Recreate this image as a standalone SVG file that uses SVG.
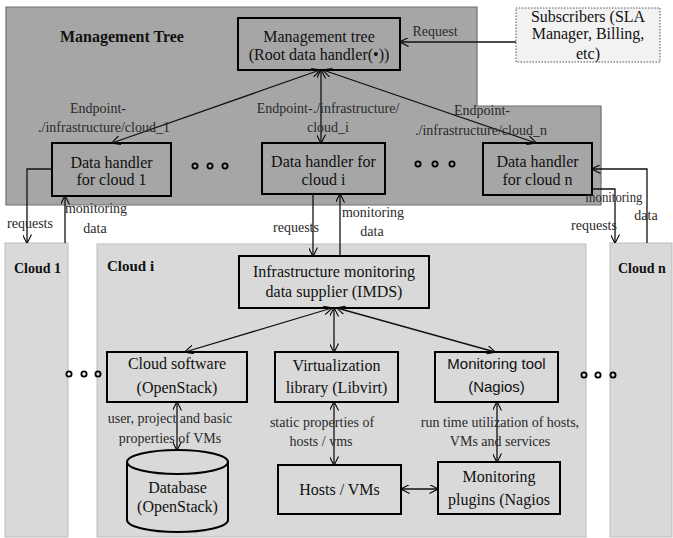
<svg xmlns="http://www.w3.org/2000/svg" width="673" height="538" viewBox="0 0 673 538">
<defs>
<marker id="arr" viewBox="0 0 10 10" refX="9.5" refY="5" markerWidth="9" markerHeight="9" markerUnits="userSpaceOnUse" orient="auto-start-reverse">
<path d="M0,0 L10,5 L0,10" fill="none" stroke="#000" stroke-width="1.2"/>
</marker>
<style>
.box{stroke:#000;stroke-width:2}
.dk{fill:#a6a6a6}
.lt{fill:#d9d9d9}
.t{font-family:"Liberation Serif","Times New Roman",serif;font-size:16px;fill:#111;text-anchor:middle}
.s{font-family:"Liberation Sans",Arial,sans-serif;font-size:15px;fill:#111;text-anchor:middle}
.lb{font-family:"Liberation Serif","Times New Roman",serif;font-size:14px;fill:#2a2a2a;text-anchor:middle}
.b{font-family:"Liberation Serif","Times New Roman",serif;font-weight:bold;fill:#111}
.c{fill:none;stroke:#111;stroke-width:1.3}
.ca{fill:none;stroke:#111;stroke-width:1.3;marker-end:url(#arr)}
.cb{fill:none;stroke:#111;stroke-width:1.3;marker-end:url(#arr);marker-start:url(#arr)}
.dot{stroke:#000;stroke-width:1.8}
</style>
</defs>

<g id="panels">
<path d="M6,7 H477 V106 H601 V205 H6 Z" fill="#a6a6a6" stroke="#6f6f6f" stroke-width="1.2"/>
<text class="b" x="60" y="42" font-size="16">Management Tree</text>
<rect x="5" y="243" width="63" height="294" fill="#d9d9d9" stroke="#bdbdbd" stroke-width="1"/>
<text class="b" x="14" y="273" font-size="14">Cloud 1</text>
<rect x="97" y="244" width="489" height="293" fill="#d9d9d9" stroke="#bdbdbd" stroke-width="1"/>
<text class="b" x="107" y="271" font-size="15">Cloud i</text>
<rect x="610" y="243" width="62" height="294" fill="#d9d9d9" stroke="#bdbdbd" stroke-width="1"/>
<text class="b" x="618" y="273" font-size="14">Cloud n</text>
</g>

<g id="subscribers">
<rect x="516" y="8" width="144" height="54" fill="#f2f2f2" stroke="#555" stroke-width="1" stroke-dasharray="1.5,1.5"/>
<text class="t" x="588" y="22">Subscribers (SLA</text>
<text class="t" x="588" y="39">Manager, Billing,</text>
<text class="t" x="588" y="59">etc)</text>
</g>

<g id="root">
<rect class="box dk" x="238" y="18" width="162" height="52"/>
<text class="t" x="319" y="42">Management tree</text>
<text class="t" x="319" y="60">(Root data handler(•))</text>
</g>

<g id="dh1">
<rect class="box dk" x="52" y="143" width="119" height="53"/>
<text class="t" x="111.5" y="168">Data handler</text>
<text class="t" x="111.5" y="185">for cloud 1</text>
</g>
<g id="dhi">
<rect class="box dk" x="262" y="143" width="123" height="51"/>
<text class="t" x="323.5" y="167">Data handler for</text>
<text class="t" x="323.5" y="185">cloud i</text>
</g>
<g id="dhn">
<rect class="box dk" x="483" y="143" width="109" height="52"/>
<text class="t" x="537.5" y="167">Data handler</text>
<text class="t" x="537.5" y="185">for cloud n</text>
</g>

<g id="imds">
<rect class="box lt" x="239" y="256" width="190" height="52"/>
<text class="t" x="334" y="277">Infrastructure  monitoring</text>
<text class="t" x="334" y="297">data supplier (IMDS)</text>
</g>
<g id="cloudsw">
<rect class="box lt" x="107" y="352" width="140" height="50"/>
<text class="t" x="177" y="369">Cloud software</text>
<text class="t" x="177" y="393">(OpenStack)</text>
</g>
<g id="virt">
<rect class="box lt" x="275" y="352" width="123" height="50"/>
<text class="t" x="336.5" y="371">Virtualization</text>
<text class="t" x="336.5" y="393">library (Libvirt)</text>
</g>
<g id="montool">
<rect class="box lt" x="435" y="352" width="123" height="50"/>
<text class="s" x="496.5" y="369">Monitoring tool</text>
<text class="s" x="496.5" y="392">(Nagios)</text>
</g>
<g id="database">
<path class="box lt" d="M127,462 A50.5,12 0 0,1 228,462 L228,520 A50.5,12 0 0,1 127,520 Z"/>
<path d="M127,462 A50.5,12 0 0,0 228,462" fill="none" stroke="#000" stroke-width="2"/>
<text class="t" x="177.5" y="493">Database</text>
<text class="t" x="177.5" y="512">(OpenStack)</text>
</g>
<g id="hosts">
<rect class="box lt" x="278" y="465" width="123" height="49"/>
<text class="t" x="339.5" y="495">Hosts  / VMs</text>
</g>
<g id="plugins">
<rect class="box lt" x="438" y="462" width="122" height="52"/>
<text class="t" x="499" y="482">Monitoring</text>
<text class="t" x="499" y="505">plugins (Nagios</text>
</g>

<g id="ellipses">
<circle class="dot" cx="195" cy="166" r="2.6" fill="#a6a6a6"/>
<circle class="dot" cx="210" cy="166" r="2.6" fill="#a6a6a6"/>
<circle class="dot" cx="225" cy="166" r="2.6" fill="#a6a6a6"/>
<circle class="dot" cx="418" cy="164" r="2.6" fill="#a6a6a6"/>
<circle class="dot" cx="435" cy="164" r="2.6" fill="#a6a6a6"/>
<circle class="dot" cx="452" cy="164" r="2.6" fill="#a6a6a6"/>
<circle class="dot" cx="69" cy="374" r="2.6" fill="#fff"/>
<circle class="dot" cx="84" cy="374" r="2.6" fill="#fff"/>
<circle class="dot" cx="98" cy="374" r="2.6" fill="#d9d9d9"/>
<circle class="dot" cx="584" cy="375" r="2.6" fill="#d9d9d9"/>
<circle class="dot" cx="598" cy="375" r="2.6" fill="#fff"/>
<circle class="dot" cx="613" cy="375" r="2.6" fill="#d9d9d9"/>
</g>

<g id="connectors">
<line class="ca" x1="516" y1="42" x2="400" y2="42"/>
<line class="cb" x1="320" y1="70" x2="112" y2="143"/>
<line class="cb" x1="321" y1="70" x2="321" y2="143"/>
<line class="cb" x1="323" y1="70" x2="536" y2="143"/>
<path class="ca" d="M52,169 H27 V243"/>
<line class="ca" x1="65" y1="243" x2="65" y2="196"/>
<line class="ca" x1="313" y1="194" x2="313" y2="256"/>
<line class="ca" x1="340" y1="256" x2="340" y2="194"/>
<path class="ca" d="M592,189 H615 V243"/>
<path class="ca" d="M647,243 V169 H592"/>
<line class="cb" x1="332" y1="308" x2="185" y2="352"/>
<line class="cb" x1="334" y1="308" x2="334" y2="352"/>
<line class="cb" x1="337" y1="308" x2="495" y2="352"/>
<line class="cb" x1="177" y1="402" x2="177" y2="450"/>
<line class="cb" x1="334" y1="402" x2="334" y2="465"/>
<line class="cb" x1="497" y1="402" x2="497" y2="462"/>
<line class="cb" x1="401" y1="489" x2="438" y2="489"/>
</g>

<g id="labels">
<text class="lb" x="435" y="36">Request</text>
<text class="lb" x="98" y="113">Endpoint-</text>
<text class="lb" x="104" y="132">./infrastructure/cloud_1</text>
<text class="lb" x="328" y="113">Endpoint-./infrastructure/</text>
<text class="lb" x="328" y="132">cloud_i</text>
<text class="lb" x="482" y="115">Endpoint-</text>
<text class="lb" x="481" y="135">./infrastructure/cloud_n</text>
<text class="lb" x="30" y="228">requests</text>
<text class="lb" x="96" y="213">monitoring</text>
<text class="lb" x="95" y="233">data</text>
<text class="lb" x="296" y="232">requests</text>
<text class="lb" x="373" y="217">monitoring</text>
<text class="lb" x="372" y="236">data</text>
<text class="lb" x="594" y="230">requests</text>
<text class="lb" x="614" y="202" text-anchor="start" textLength="57" lengthAdjust="spacingAndGlyphs">monitoring</text>
<text class="lb" x="646" y="220">data</text>
<text class="lb" x="170" y="423">user, project and basic</text>
<text class="lb" x="170" y="443">properties of VMs</text>
<text class="lb" x="322" y="427">static properties of</text>
<text class="lb" x="321" y="446">hosts / vms</text>
<text class="lb" x="500" y="427">run time utilization  of hosts,</text>
<text class="lb" x="500" y="446">VMs and services</text>
</g>
</svg>
